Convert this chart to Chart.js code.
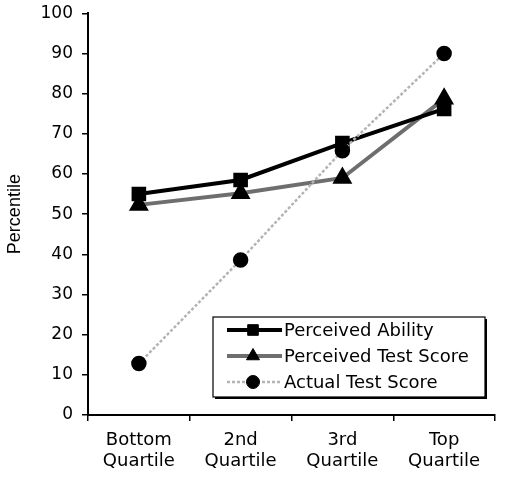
<!DOCTYPE html>
<html>
<head>
<meta charset="utf-8">
<script src="https://cdn.jsdelivr.net/npm/chart.js@4"></script>
<style>
  html, body { margin: 0; padding: 0; background: #fff; }
  #wrap { width: 512px; height: 480px; }
</style>
</head>
<body>
<div id="wrap"><canvas id="chart" width="512" height="480"></canvas></div>
<script>
// data
var quartiles = [["Bottom", "Quartile"], ["2nd", "Quartile"], ["3rd", "Quartile"], ["Top", "Quartile"]];
var perceivedAbility = [55, 58.5, 67.7, 76.2];
var perceivedTestScore = [52.3, 55.2, 59, 78.7];
var actualTestScore = [12.8, 38.6, 65.8, 90];
var yTicks = [0, 10, 20, 30, 40, 50, 60, 70, 80, 90, 100];

// legend drawn inside the plot, bottom right, with line sample + marker
var insideLegend = {
    id: 'insideLegend',
    afterDatasetsDraw: function (chart) {
        var ctx = chart.ctx;
        var area = chart.chartArea;
        var w = 272, h = 80;
        var x = area.right - 10 - w;
        var y = area.bottom - 18 - h;
        ctx.save();
        // shadow
        ctx.fillStyle = '#000';
        ctx.fillRect(x + 2, y + 2, w, h);
        ctx.fillStyle = '#fff';
        ctx.fillRect(x, y, w, h);
        ctx.strokeStyle = '#000';
        ctx.lineWidth = 1.2;
        ctx.strokeRect(x, y, w, h);
        ctx.font = '18px "DejaVu Sans"';
        ctx.textBaseline = 'middle';
        chart.data.datasets.forEach(function (ds, i) {
            var cy = y + 13 + i * 26;
            ctx.save();
            ctx.strokeStyle = ds.borderColor;
            ctx.lineWidth = ds.borderWidth;
            ctx.setLineDash(ds.borderDash || []);
            ctx.beginPath();
            ctx.moveTo(x + 14, cy);
            ctx.lineTo(x + 69, cy);
            ctx.stroke();
            ctx.restore();
            ctx.fillStyle = '#000';
            ctx.strokeStyle = '#000';
            ctx.lineWidth = 1;
            Chart.helpers.drawPoint(ctx, {
                pointStyle: ds.pointStyle,
                radius: ds.pointRadius,
                borderWidth: 1
            }, x + 40, cy);
            ctx.fillStyle = '#000';
            ctx.fillText(ds.label, x + 71, cy + 1);
        });
        ctx.restore();
    }
};

new Chart(document.getElementById('chart'), {
    type: 'line',
    data: {
        labels: quartiles,
        datasets: [
            {
                label: 'Perceived Ability',
                data: perceivedAbility,
                borderColor: '#000',
                borderWidth: 4,
                pointStyle: 'rect',
                pointRadius: 7.5,
                pointBackgroundColor: '#000',
                pointBorderColor: '#000',
                order: 2
            },
            {
                label: 'Perceived Test Score',
                data: perceivedTestScore,
                borderColor: '#6e6e6e',
                borderWidth: 4,
                pointStyle: 'triangle',
                pointRadius: 7.5,
                pointBackgroundColor: '#000',
                pointBorderColor: '#000',
                order: 3
            },
            {
                label: 'Actual Test Score',
                data: actualTestScore,
                borderColor: '#b4b4b4',
                borderWidth: 2.5,
                borderDash: [3, 2],
                pointStyle: 'circle',
                pointRadius: 6.5,
                pointBackgroundColor: '#000',
                pointBorderColor: '#000',
                order: 1
            }
        ]
    },
    options: {
        responsive: false,
        animation: false,
        devicePixelRatio: 1,
        layout: { padding: { left: 0, right: 17, top: 0, bottom: 0 } },
        plugins: {
            legend: { display: false },
            tooltip: { enabled: false }
        },
        elements: { line: { tension: 0 } },
        scales: {
            x: {
                offset: true,
                afterFit: function (scale) { scale.height = 65; },
                grid: {
                    offset: true,
                    drawOnChartArea: false,
                    color: '#000',
                    tickLength: 6,
                    lineWidth: 1.5
                },
                border: { color: '#000', width: 2 },
                ticks: {
                    color: '#000',
                    font: { family: 'DejaVu Sans', size: 18, lineHeight: 1.17 },
                    padding: 9,
                    maxRotation: 0,
                    autoSkip: false
                }
            },
            y: {
                min: 0,
                max: 100,
                afterBuildTicks: function (scale) {
                    scale.ticks = yTicks.map(function (v) { return { value: v }; });
                },
                afterFit: function (scale) { scale.width = 88; },
                grid: {
                    drawOnChartArea: false,
                    color: '#000',
                    tickLength: 6,
                    lineWidth: 1.5
                },
                border: { color: '#000', width: 2 },
                ticks: {
                    color: '#000',
                    font: { family: 'DejaVu Sans', size: 17, lineHeight: 0.5 },
                    padding: 9
                },
                title: {
                    display: true,
                    text: 'Percentile',
                    color: '#000',
                    font: { family: 'Liberation Sans', size: 18 },
                    padding: { top: 4, bottom: 0 }
                }
            }
        }
    },
    plugins: [insideLegend]
});
</script>
</body>
</html>
